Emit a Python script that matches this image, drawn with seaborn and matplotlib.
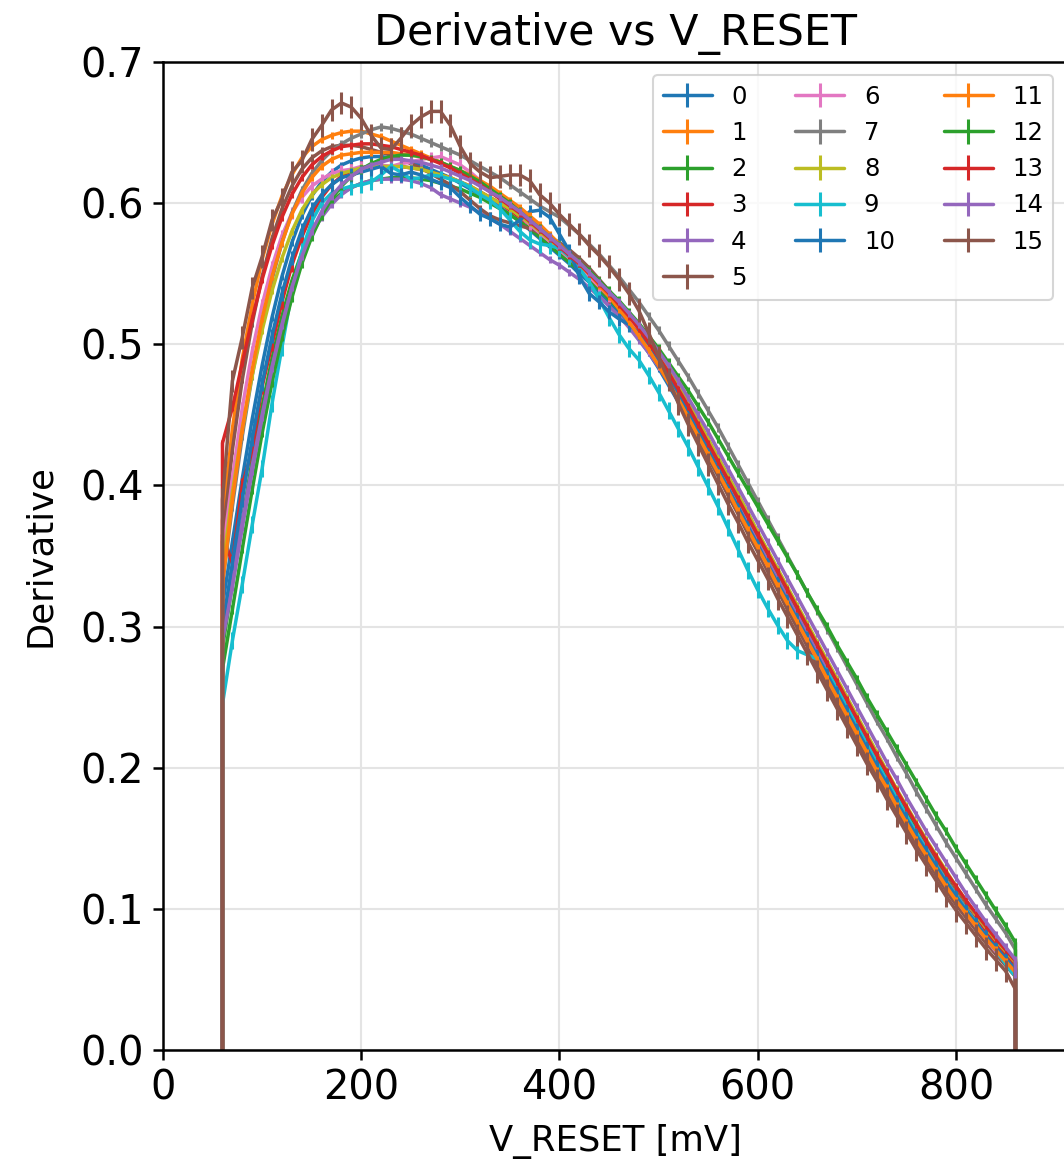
import numpy as np
import pandas as pd
import matplotlib
matplotlib.use("Agg")
import matplotlib.pyplot as plt
import seaborn as sns
from matplotlib.container import ErrorbarContainer

# ---------------- data ----------------
v_reset = list(range(60, 870, 10))          # 81 sweep points, mV

s0 = [.315,.360,.405,.447,.485,.519,.548,.572,.591,.605,.615,.622,.627,.630,.632,.633,.633,.632,.631,.629,
      .627,.624,.621,.618,.614,.610,.606,.602,.597,.592,.587,.581,.575,.569,.563,.557,.550,.544,.537,.530,
      .522,.513,.504,.494,.483,.471,.459,.446,.433,.420,.407,.394,.381,.368,.355,.342,.329,.316,.303,.290,
      .277,.264,.251,.238,.225,.212,.200,.187,.175,.163,.151,.140,.129,.119,.109,.100,.091,.082,.074,.066,.058]
s1 = [.375,.440,.490,.528,.560,.585,.605,.620,.632,.640,.645,.648,.650,.651,.651,.649,.647,.644,.641,.638,
      .635,.632,.629,.625,.622,.618,.614,.609,.605,.600,.594,.588,.582,.576,.569,.563,.557,.550,.543,.535,
      .527,.518,.508,.497,.486,.474,.461,.448,.435,.422,.408,.395,.381,.368,.354,.341,.327,.314,.301,.288,
      .275,.262,.249,.236,.223,.210,.197,.185,.172,.160,.148,.137,.126,.116,.106,.096,.087,.078,.070,.062,.055]
s2 = [.285,.330,.375,.418,.456,.490,.520,.545,.565,.580,.592,.601,.607,.611,.614,.616,.617,.618,.618,.618,
      .617,.616,.614,.612,.610,.607,.604,.600,.596,.592,.587,.582,.576,.570,.564,.558,.552,.546,.539,.532,
      .525,.517,.508,.499,.489,.478,.466,.454,.441,.428,.415,.402,.389,.376,.363,.350,.337,.324,.311,.298,
      .285,.272,.259,.246,.233,.220,.207,.195,.182,.170,.158,.147,.136,.125,.115,.105,.096,.087,.078,.070,.062]
s3 = [.365,.345,.400,.425,.470,.500,.530,.556,.576,.592,.604,.613,.619,.623,.625,.626,.626,.626,.626,.625,
      .624,.622,.620,.618,.615,.612,.608,.604,.600,.595,.590,.585,.579,.573,.567,.561,.555,.548,.541,.534,
      .526,.517,.508,.498,.487,.476,.464,.451,.438,.425,.412,.398,.385,.372,.359,.346,.333,.319,.306,.293,
      .280,.267,.254,.241,.228,.215,.203,.190,.178,.166,.154,.143,.132,.121,.111,.101,.092,.083,.075,.067,.060]
s4 = [.298,.335,.375,.414,.450,.484,.514,.540,.561,.578,.590,.599,.606,.611,.614,.616,.617,.617,.617,.616,
      .614,.611,.606,.603,.600,.597,.593,.589,.585,.580,.575,.570,.565,.560,.556,.551,.546,.540,.534,.527,
      .520,.512,.503,.494,.484,.473,.462,.450,.438,.425,.412,.399,.386,.373,.360,.347,.334,.321,.308,.295,
      .282,.269,.256,.243,.230,.217,.204,.191,.179,.166,.154,.143,.131,.120,.110,.100,.090,.081,.072,.064,.056]
s5 = [.360,.425,.475,.515,.548,.575,.596,.612,.624,.632,.637,.640,.641,.641,.640,.638,.636,.634,.631,.628,
      .625,.621,.617,.613,.608,.602,.596,.591,.588,.586,.584,.582,.579,.576,.572,.567,.561,.554,.546,.538,
      .529,.519,.508,.497,.485,.473,.460,.447,.434,.420,.407,.393,.380,.366,.353,.339,.326,.312,.299,.286,
      .272,.259,.246,.233,.220,.207,.194,.182,.170,.158,.146,.135,.124,.113,.103,.094,.085,.076,.068,.060,.052]
s6 = [.350,.405,.455,.495,.528,.555,.577,.593,.604,.612,.617,.621,.623,.624,.626,.625,.627,.626,.628,.629,
      .631,.632,.633,.630,.627,.622,.616,.610,.603,.597,.591,.585,.579,.573,.567,.561,.555,.548,.541,.534,
      .526,.517,.507,.497,.486,.474,.462,.449,.436,.423,.410,.397,.383,.370,.357,.343,.330,.317,.304,.290,
      .277,.264,.251,.238,.225,.212,.199,.187,.174,.162,.150,.139,.128,.117,.107,.097,.088,.079,.070,.062,.054]
s7 = [.330,.385,.435,.478,.515,.546,.572,.593,.609,.621,.630,.637,.642,.646,.649,.652,.654,.653,.651,.649,
      .646,.643,.640,.637,.634,.630,.626,.622,.618,.613,.608,.603,.598,.594,.590,.584,.578,.571,.564,.556,
      .548,.539,.530,.520,.510,.499,.488,.477,.465,.453,.441,.428,.415,.402,.389,.376,.363,.350,.337,.324,
      .311,.298,.285,.272,.259,.246,.233,.221,.208,.196,.183,.171,.159,.147,.136,.125,.114,.103,.093,.083,.071]
s8 = [.340,.395,.440,.478,.510,.538,.561,.580,.595,.606,.613,.618,.621,.623,.625,.626,.626,.626,.626,.625,
      .624,.622,.620,.618,.615,.612,.608,.604,.600,.596,.591,.586,.580,.574,.568,.562,.556,.550,.544,.537,
      .530,.522,.513,.504,.494,.483,.471,.459,.446,.433,.420,.407,.394,.381,.367,.354,.341,.328,.315,.302,
      .289,.276,.263,.250,.237,.224,.211,.198,.185,.173,.161,.149,.138,.127,.116,.106,.096,.087,.078,.070,.062]
s9 = [.245,.290,.330,.372,.412,.458,.498,.537,.566,.587,.600,.607,.610,.612,.613,.615,.620,.626,.622,.617,
      .618,.620,.619,.617,.615,.611,.606,.602,.596,.588,.580,.574,.571,.570,.568,.562,.554,.544,.532,.519,
      .507,.497,.489,.478,.466,.453,.440,.427,.413,.399,.385,.370,.355,.340,.326,.313,.301,.290,.283,.280,
      .277,.268,.256,.243,.230,.217,.204,.191,.179,.166,.154,.142,.131,.120,.110,.100,.091,.080,.071,.061,.052]
s10 = [.300,.345,.390,.433,.472,.506,.536,.561,.581,.596,.606,.613,.618,.620,.622,.624,.626,.621,.620,.622,
       .620,.617,.614,.611,.604,.598,.592,.589,.585,.583,.588,.594,.595,.590,.578,.566,.548,.536,.530,.523,
       .518,.514,.508,.500,.489,.477,.465,.452,.439,.425,.412,.398,.385,.371,.358,.344,.331,.318,.305,.292,
       .279,.266,.253,.240,.227,.214,.201,.189,.176,.164,.152,.141,.130,.119,.109,.099,.090,.081,.073,.065,.057]
s11 = [.330,.390,.440,.482,.518,.548,.572,.592,.607,.618,.626,.631,.634,.635,.636,.636,.636,.636,.635,.634,
       .633,.631,.629,.626,.623,.620,.616,.612,.607,.602,.597,.591,.585,.578,.571,.564,.557,.550,.542,.534,
       .525,.516,.506,.496,.485,.473,.461,.448,.435,.422,.409,.396,.382,.369,.356,.343,.329,.316,.303,.290,
       .277,.263,.250,.237,.224,.211,.198,.186,.173,.161,.149,.138,.127,.116,.106,.097,.088,.079,.071,.063,.055]
s12 = [.270,.312,.355,.397,.437,.473,.505,.533,.557,.576,.591,.603,.612,.619,.624,.628,.631,.633,.634,.634,
       .633,.631,.629,.626,.623,.619,.615,.610,.605,.600,.594,.588,.582,.576,.570,.564,.558,.552,.545,.538,
       .531,.523,.515,.506,.497,.487,.477,.467,.456,.445,.433,.421,.409,.397,.385,.373,.361,.349,.337,.324,
       .312,.300,.287,.275,.263,.250,.238,.226,.214,.202,.190,.178,.166,.155,.143,.132,.121,.110,.099,.088,.076]
s13 = [.430,.455,.487,.518,.546,.570,.590,.606,.618,.627,.633,.637,.640,.641,.642,.642,.641,.640,.638,.636,
       .634,.631,.628,.625,.621,.617,.613,.608,.603,.598,.593,.587,.581,.575,.569,.563,.557,.550,.543,.536,
       .528,.520,.511,.501,.491,.480,.468,.456,.443,.430,.417,.404,.391,.378,.365,.352,.339,.326,.313,.300,
       .287,.274,.261,.248,.235,.222,.209,.197,.184,.172,.160,.148,.137,.126,.116,.106,.097,.088,.079,.071,.063]
s14 = [.290,.328,.370,.410,.448,.483,.513,.540,.562,.580,.594,.605,.613,.619,.624,.627,.629,.631,.631,.630,
       .629,.627,.625,.622,.619,.616,.612,.608,.604,.599,.594,.588,.582,.576,.570,.564,.558,.551,.544,.537,
       .530,.522,.514,.505,.495,.485,.474,.462,.450,.438,.425,.412,.399,.386,.373,.360,.347,.334,.321,.308,
       .295,.282,.269,.256,.243,.230,.217,.204,.192,.179,.167,.155,.144,.133,.122,.111,.101,.091,.082,.073,.064]
s15 = [.390,.474,.505,.540,.562,.588,.603,.622,.630,.645,.655,.666,.671,.668,.660,.648,.639,.638,.646,.655,
       .661,.665,.665,.655,.640,.628,.622,.618,.619,.620,.620,.616,.606,.600,.592,.585,.578,.570,.563,.555,
       .546,.536,.524,.508,.491,.475,.458,.443,.429,.415,.401,.387,.374,.360,.347,.334,.320,.307,.294,.281,
       .268,.255,.242,.229,.216,.203,.191,.178,.166,.154,.142,.131,.120,.109,.099,.090,.081,.072,.064,.056,.043]

series_values = [s0, s1, s2, s3, s4, s5, s6, s7, s8, s9, s10, s11, s12, s13, s14, s15]
series_labels = [str(i) for i in range(16)]
series_err = [0.0025, 0.0025, 0.0025, 0.005, 0.0025, 0.0025, 0.004, 0.003,
              0.0025, 0.006, 0.005, 0.0025, 0.003, 0.0025, 0.0025, 0.008]

# ---------------- style ----------------
sns.set_theme(style="white")
plt.rcParams['font.family'] = ['DejaVu Sans']
plt.rcParams['text.color'] = 'black'
plt.rcParams['axes.labelcolor'] = 'black'

palette = sns.color_palette("tab10", 10)

fig = plt.figure(figsize=(10.64, 11.65), dpi=100)
ax = fig.add_axes([163 / 1064, 115 / 1165, 904 / 1064, 988 / 1165])

handles = []
for lab, vals, err, k in zip(series_labels, series_values, series_err, range(16)):
    c = palette[k % 10]
    # vertical drop to zero at both ends of the sweep
    xs = [v_reset[0]] + v_reset + [v_reset[-1]]
    ys = [0.0] + list(vals) + [0.0]
    df = pd.DataFrame({"V_RESET": xs, "Derivative": ys})
    sns.lineplot(data=df, x="V_RESET", y="Derivative", estimator=None, sort=False,
                 color=c, linewidth=2.5, ax=ax)
    line = ax.lines[-1]
    eb = ax.errorbar(v_reset, vals, yerr=err, fmt='none', ecolor=c,
                     elinewidth=2.2, capsize=0)
    handles.append(ErrorbarContainer((line, (), eb.lines[2]), has_xerr=False,
                                     has_yerr=True, label=lab))

ax.set_xlim(0, 912)
ax.set_ylim(0, 0.7)
ax.set_xticks([0, 200, 400, 600, 800])
ax.set_yticks(np.arange(0, 0.71, 0.1))
ax.yaxis.set_major_formatter(matplotlib.ticker.FormatStrFormatter('%.1f'))
ax.grid(True, color='#e4e4e4', linewidth=1.5)
ax.set_axisbelow(True)

for s in ['left', 'bottom', 'top', 'right']:
    ax.spines[s].set_color('black')
    ax.spines[s].set_linewidth(1.8)

ax.tick_params(axis='both', which='major', labelsize=28.8, length=7.5, width=1.8,
               direction='out', pad=6, colors='black', bottom=True, left=True)

ax.set_title("Derivative vs V_RESET", fontsize=30.8, pad=12, color='black')
ax.set_xlabel("V_RESET [mV]", fontsize=25.5, labelpad=11, color='black')
ax.set_ylabel("Derivative", fontsize=25.5, labelpad=17, color='black')

leg = ax.legend(handles=handles, labels=series_labels, ncol=3, fontsize=17.6,
                loc='upper right', bbox_to_anchor=(1053 / 1064, 1 - 75 / 1165),
                bbox_transform=fig.transFigure, borderaxespad=0,
                frameon=True, fancybox=True, framealpha=0.8)
leg.get_frame().set_edgecolor('#cccccc')
leg.get_frame().set_linewidth(1.5)
for t in leg.get_texts():
    t.set_color('black')

fig.savefig("out.png", dpi=100)
